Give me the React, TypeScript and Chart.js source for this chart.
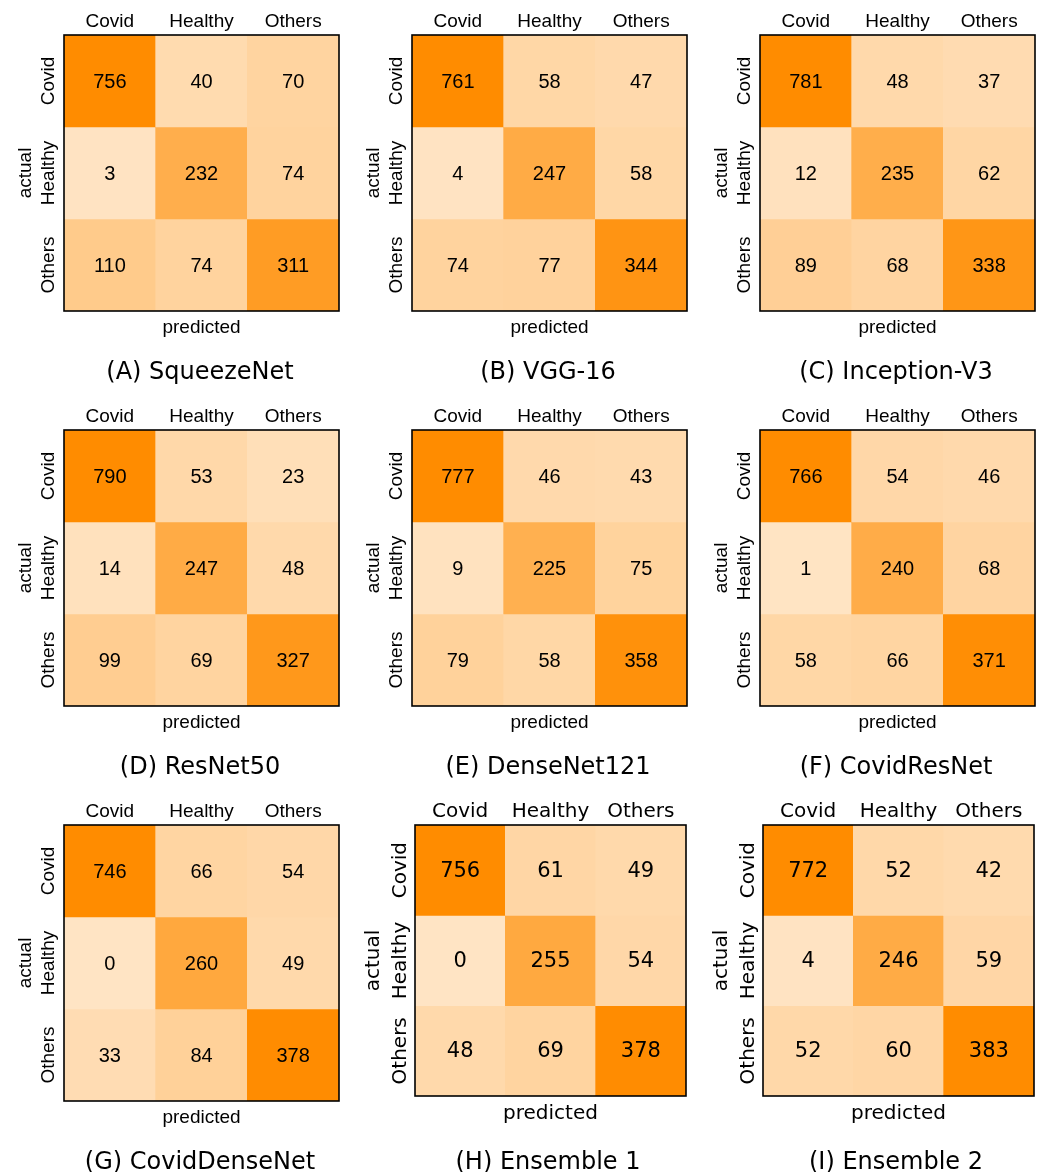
import React, { useEffect, useRef } from "react";
import { Chart, registerables } from "chart.js";

Chart.register(...registerables);

// ---------- data ----------
const predictedLabels = ["Covid", "Healthy", "Others"];
const actualLabels = ["Covid", "Healthy", "Others"];

const panelTitles = [
  "(A) SqueezeNet",
  "(B) VGG-16",
  "(C) Inception-V3",
  "(D) ResNet50",
  "(E) DenseNet121",
  "(F) CovidResNet",
  "(G) CovidDenseNet",
  "(H) Ensemble 1",
  "(I) Ensemble 2",
];

const squeezeNet = [
  [756, 40, 70],
  [3, 232, 74],
  [110, 74, 311],
];
const vgg16 = [
  [761, 58, 47],
  [4, 247, 58],
  [74, 77, 344],
];
const inceptionV3 = [
  [781, 48, 37],
  [12, 235, 62],
  [89, 68, 338],
];
const resNet50 = [
  [790, 53, 23],
  [14, 247, 48],
  [99, 69, 327],
];
const denseNet121 = [
  [777, 46, 43],
  [9, 225, 75],
  [79, 58, 358],
];
const covidResNet = [
  [766, 54, 46],
  [1, 240, 68],
  [58, 66, 371],
];
const covidDenseNet = [
  [746, 66, 54],
  [0, 260, 49],
  [33, 84, 378],
];
const ensemble1 = [
  [756, 61, 49],
  [0, 255, 54],
  [48, 69, 378],
];
const ensemble2 = [
  [772, 52, 42],
  [4, 246, 59],
  [52, 60, 383],
];

const matrices = [
  squeezeNet,
  vgg16,
  inceptionV3,
  resNet50,
  denseNet121,
  covidResNet,
  covidDenseNet,
  ensemble1,
  ensemble2,
];

// colour scale saturates at this value
const colorMax = 380;

// ---------- styles ----------
function cellColor(v: number): string {
  const t = Math.min(v / colorMax, 1);
  const g = Math.round(228 - 88 * t);
  const b = Math.round(196 - 196 * t);
  return `rgb(255,${g},${b})`;
}

type PanelStyle = {
  family: string;
  labelSize: number;
  valueSize: number;
  left: number;
  right: number;
  bottom: number;
  tickX: number;
  predictedY: number;
};

const texStyle: PanelStyle = {
  family: '"Liberation Sans", Arial, sans-serif',
  labelSize: 19,
  valueSize: 20,
  left: 64,
  right: 339,
  bottom: 311,
  tickX: 49,
  predictedY: 328,
};

const dejaStyle: PanelStyle = {
  family: '"DejaVu Sans", sans-serif',
  labelSize: 20,
  valueSize: 21,
  left: 67,
  right: 338,
  bottom: 306,
  tickX: 53,
  predictedY: 324,
};

const W = 348;
const H = 395;
const TOP = 35;

function Panel({ index }: { index: number }) {
  const ref = useRef<HTMLCanvasElement>(null);

  useEffect(() => {
    const canvas = ref.current;
    if (!canvas) return;
    const m = matrices[index];
    const s = index >= 7 ? dejaStyle : texStyle;
    const lh = s.labelSize * 1.2;
    const labelFont = { family: s.family, size: s.labelSize, lineHeight: 1.2 };

    const cmPlugin = {
      id: "cm" + index,
      afterDatasetsDraw(chart: any) {
        const ctx = chart.ctx as CanvasRenderingContext2D;
        ctx.save();
        ctx.fillStyle = "#000";
        ctx.textAlign = "center";
        ctx.textBaseline = "middle";
        ctx.font = `${s.valueSize}px ${s.family}`;
        chart.data.datasets.forEach((_ds: any, i: number) => {
          const meta = chart.getDatasetMeta(i);
          meta.data.forEach((el: any, j: number) => {
            const p = el.getProps(["x", "y", "base"], true);
            ctx.fillText(String(m[i][j]), p.x, (p.y + p.base) / 2 + 1);
          });
        });
        const a = chart.chartArea;
        ctx.strokeStyle = "#000";
        ctx.lineWidth = 1.6;
        ctx.strokeRect(a.left, a.top, a.right - a.left, a.bottom - a.top);

        const ys = chart.scales.y;
        ctx.font = `${s.labelSize}px ${s.family}`;
        actualLabels.forEach((lab, i) => {
          const y = ys.getPixelForValue(i + 0.5);
          ctx.save();
          ctx.translate(s.tickX, y);
          ctx.rotate(-Math.PI / 2);
          ctx.fillText(lab, 0, 0);
          ctx.restore();
        });

        ctx.font = `24px "DejaVu Sans", sans-serif`;
        ctx.fillText(panelTitles[index], 200, 373);
        ctx.restore();
      },
    };

    const chart = new Chart(canvas, {
      type: "bar",
      data: {
        labels: predictedLabels,
        datasets: m.map((row, i) => ({
          label: actualLabels[i],
          data: row.map(() => 1),
          backgroundColor: row.map(cellColor),
          borderWidth: 0,
          barPercentage: 1,
          categoryPercentage: 1,
          stack: "cm",
        })),
      },
      options: {
        animation: false,
        responsive: false,
        layout: { padding: { left: 0, right: W - s.right, top: 0, bottom: 0 } },
        plugins: {
          legend: { display: false },
          tooltip: { enabled: false },
          title: { display: false },
        },
        scales: {
          x: {
            type: "category",
            position: "top",
            stacked: true,
            grid: { display: false, drawTicks: false },
            border: { display: false },
            ticks: {
              color: "#000",
              font: labelFont,
              padding: TOP - 22 - lh / 2,
              maxRotation: 0,
              autoSkip: false,
            },
            afterFit: (sc: any) => {
              sc.height = TOP;
            },
          },
          x2: {
            type: "category",
            position: "bottom",
            labels: predictedLabels,
            grid: { display: false, drawTicks: false },
            border: { display: false },
            ticks: { display: false },
            title: {
              display: true,
              text: "predicted",
              color: "#000",
              font: labelFont,
              padding: { top: 0, bottom: H - s.predictedY - lh / 2 },
            },
            afterFit: (sc: any) => {
              sc.height = H - s.bottom;
            },
          },
          y: {
            type: "linear",
            min: 0,
            max: 3,
            reverse: true,
            stacked: true,
            grid: { display: false, drawTicks: false },
            border: { display: false },
            ticks: { display: false },
            title: {
              display: true,
              text: "actual",
              color: "#000",
              font: labelFont,
              padding: { top: 26 - lh / 2, bottom: 0 },
            },
            afterFit: (sc: any) => {
              sc.width = s.left;
            },
          },
        },
      } as any,
      plugins: [cmPlugin],
    });

    return () => {
      chart.destroy();
    };
  }, [index]);

  return (
    <canvas
      ref={ref}
      width={W}
      height={H}
      style={{
        position: "absolute",
        left: (index % 3) * W,
        top: Math.floor(index / 3) * H,
        width: W,
        height: H,
      }}
    />
  );
}

export default function App() {
  return (
    <div
      style={{
        position: "absolute",
        left: 0,
        top: 0,
        width: 1044,
        height: 1172,
        overflow: "hidden",
        background: "#fff",
      }}
    >
      {matrices.map((_, i) => (
        <Panel key={i} index={i} />
      ))}
    </div>
  );
}
